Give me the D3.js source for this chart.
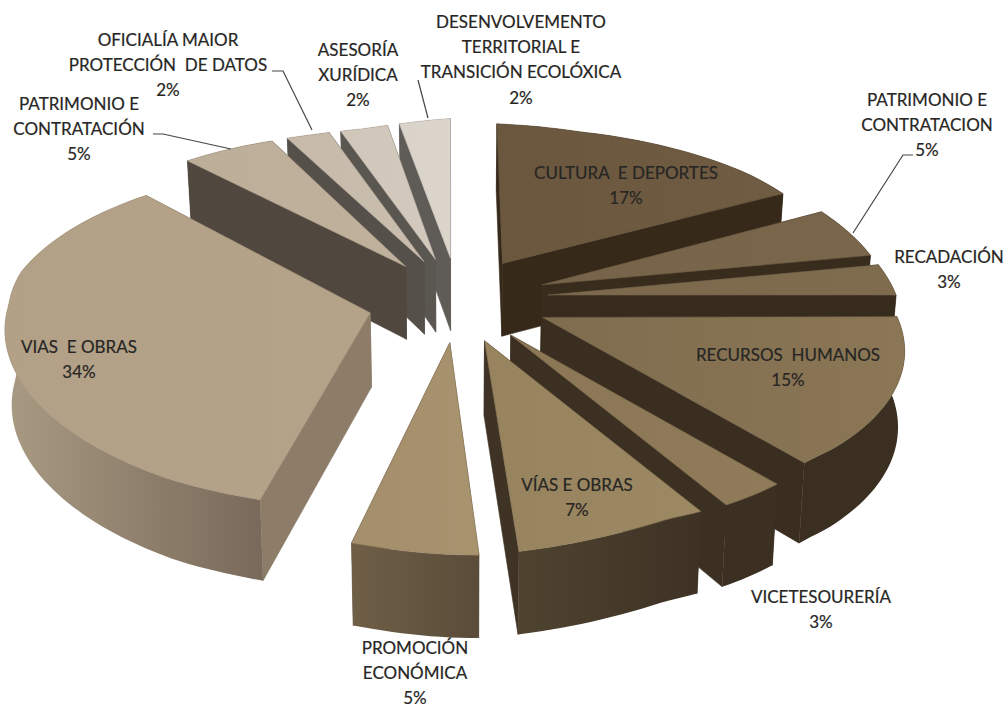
<!DOCTYPE html>
<html>
<head>
<meta charset="utf-8">
<script src="https://cdn.jsdelivr.net/npm/d3@7"></script>
<style>
  html, body { margin: 0; padding: 0; background: #fff; }
  svg { display: block; }
  text { font-family: Lato, "Open Sans", sans-serif; font-size: 17px; fill: #272624; stroke: #272624; stroke-width: 0.2px; white-space: pre; }
</style>
</head>
<body>
<script>
// Budget shares per department, clockwise from twelve o'clock
const departments = [
  "CULTURA E DEPORTES", "PATRIMONIO E CONTRATACION", "RECADACIÓN", "RECURSOS HUMANOS",
  "VICETESOURERÍA", "VÍAS E OBRAS", "PROMOCIÓN ECONÓMICA", "VIAS E OBRAS",
  "PATRIMONIO E CONTRATACIÓN", "OFICIALÍA MAIOR PROTECCIÓN DE DATOS", "ASESORÍA XURÍDICA",
  "DESENVOLVEMENTO TERRITORIAL E TRANSICIÓN ECOLÓXICA"
];
const shares = [17, 5, 3, 15, 3, 7, 5, 34, 5, 2, 2, 2];

// Label wording, line by line
const labelLines = [
  ["CULTURA  E DEPORTES", "17%"],
  ["PATRIMONIO E", "CONTRATACION", "5%"],
  ["RECADACIÓN", "3%"],
  ["RECURSOS  HUMANOS", "15%"],
  ["VICETESOURERÍA", "3%"],
  ["VÍAS E OBRAS", "7%"],
  ["PROMOCIÓN", "ECONÓMICA", "5%"],
  ["VIAS  E OBRAS", "34%"],
  ["PATRIMONIO E", "CONTRATACIÓN", "5%"],
  ["OFICIALÍA MAIOR", "PROTECCIÓN  DE DATOS", "2%"],
  ["ASESORÍA", "XURÍDICA", "2%"],
  ["DESENVOLVEMENTO", "TERRITORIAL E", "TRANSICIÓN ECOLÓXICA", "2%"]
];

// Where each label block sits: centre x, first baseline
const labelAnchors = [
  [626, 179], [927, 106], [949, 263], [788, 361], [821, 603], [577, 491],
  [415, 654], [79, 353], [79, 110], [168, 46], [358, 56], [521, 28]
];

// Callout lines for the labels that sit away from their slices
const leaders = [
  [[913, 155], [903, 155], [853, 233]],
  [[153, 134], [163, 134], [231, 149]],
  [[272, 71], [283, 71], [312, 130]],
  [[418, 80], [428, 118]]
];

// Face colours per slice: top face (left, right), radial wall, rim (left, right)
const topColors = [
  ["#6a573e", "#6f5c42"], ["#766349", "#79664b"], ["#7c694d", "#7f6c4f"], ["#7f6c4f", "#8b7755"],
  ["#8b7755", "#8f7b59"], ["#97835e", "#9c8862"], ["#a48e6b", "#a8936f"], ["#b2a087", "#b5a389"],
  ["#bdae99", "#c0b19c"], ["#c6baaa", "#c9bdad"], ["#d0c6b9", "#d3c9bc"], ["#dad3ca", "#dcd5cc"]
];
const wallColors = [
  "#36291a", "#382c1d", "#372b1d", "#392e1f", "#3c3022", "#3e3324", "#5c4e3b", "#8c7c68",
  "#50473e", "#56504a", "#5a5650", "#5f5c57"
];
const rimColors = [
  ["#36291a", "#36291a"], ["#382c1d", "#382c1d"], ["#372b1d", "#372b1d"], ["#3a2f20", "#3a2f20"],
  ["#3c3022", "#3c3022"], ["#4f4330", "#3d3224"], ["#6f5f47", "#5a4c39"], ["#a99a83", "#78695a"],
  ["#50473e", "#50473e"], ["#56504a", "#56504a"], ["#5a5650", "#5a5650"], ["#5f5c57", "#5f5c57"]
];

const width = 1005, height = 707;
const cx = 458, cy = 299, radiusX = 361, radiusY = 167;
const perspective = 0.15, explode = 0.25, thickness = 74, floorShrink = 0.985;
const clamp = (t, lo, hi) => Math.max(lo, Math.min(hi, t));

// Sideways lean of the near half of the disc, as a function of u
const nearLean = d3.scaleLinear().domain([-0.3, 0, 0.5, 0.85]).range([32, 24, 24, 4]).clamp(true);

// Projects a point of the unit pie plane (u right, v toward the viewer) onto the page.
// The skew terms reproduce the off-axis camera of the 3-D view.
function project(u, v, floor) {
  const w = 1 - perspective * v;
  let skewX = v > 0
    ? v * nearLean(u)
    : 29 * v * clamp(-u / 0.4, 0, 1) - 6 * clamp(-v / 0.2, 0, 1) * clamp(-u / 0.05, 0, 1);
  skewX -= 32 * Math.max(0, u - 0.9);
  let skewY = v > 0 ? -14 * v * clamp(u / 0.4, 0, 1) : 5 * v * (1 - clamp(Math.abs(u) / 0.4, 0, 1));
  skewY += 6 * clamp(-u / 0.24, 0, 1) * (1 - clamp((v - 0.9) / 0.3, 0, 1));
  const x = cx + (radiusX * u + skewX) / w;
  const y = cy + (radiusY * v + skewY) / w;
  if (!floor) return [x, y];
  return [cx + (x - cx) * floorShrink, y + thickness / Math.pow(w, 0.55)];
}

const svg = d3.select("body").append("svg").attr("width", width).attr("height", height);
const defs = svg.append("defs");
const polygon = d3.line();

function gradient(id, pair) {
  const g = defs.append("linearGradient").attr("id", id);
  g.append("stop").attr("offset", 0).attr("stop-color", pair[0]);
  g.append("stop").attr("offset", 1).attr("stop-color", pair[1]);
  return `url(#${id})`;
}

const arcs = d3.pie().sort(null).value(d => d).startAngle(0).endAngle(2 * Math.PI)(shares);

const slices = arcs.map((a, i) => {
  const mid = (a.startAngle + a.endAngle) / 2;
  const ou = explode * Math.sin(mid), ov = -explode * Math.cos(mid);
  const at = (angle, r) => [ou + r * Math.sin(angle), ov - r * Math.cos(angle)];
  const steps = Math.max(6, Math.ceil((a.endAngle - a.startAngle) * 40));
  const angles = d3.range(steps + 1).map(k => a.startAngle + (a.endAngle - a.startAngle) * k / steps);
  return { i, mid, apex: at(0, 0), rim: angles.map(t => at(t, 1)) };
});

// Far slices first, so the nearer ones cover them
const order = slices.slice().sort((p, q) => (-Math.cos(p.mid)) - (-Math.cos(q.mid)));

const chart = svg.append("g");
order.forEach(s => {
  const g = chart.append("g");
  const top = pt => project(pt[0], pt[1], false);
  const low = pt => project(pt[0], pt[1], true);
  const first = s.rim[0], last = s.rim[s.rim.length - 1];
  const wall = wallColors[s.i];

  [first, last].forEach(edge => {
    g.append("path")
      .attr("d", polygon([top(s.apex), top(edge), low(edge), low(s.apex)]) + "Z")
      .attr("fill", wall).attr("stroke", wall).attr("stroke-width", 0.6);
  });

  const rimFill = gradient(`rim${s.i}`, rimColors[s.i]);
  g.append("path")
    .attr("d", polygon(s.rim.map(top).concat(s.rim.slice().reverse().map(low))) + "Z")
    .attr("fill", rimFill);

  g.append("path")
    .attr("d", polygon([top(s.apex)].concat(s.rim.map(top))) + "Z")
    .attr("fill", gradient(`top${s.i}`, topColors[s.i]))
    .attr("stroke", d3.color(topColors[s.i][0]).darker(0.25)).attr("stroke-width", 0.6);
});

// Callouts
svg.append("g").selectAll("path").data(leaders).join("path")
  .attr("d", d => polygon(d))
  .attr("fill", "none").attr("stroke", "#454545").attr("stroke-width", 1.2);

// Labels
const lineStep = 25.2;
const labels = svg.append("g").selectAll("text").data(labelLines).join("text")
  .attr("text-anchor", "middle")
  .attr("y", (d, i) => labelAnchors[i][1])
  .attr("aria-label", (d, i) => departments[i]);
labels.selectAll("tspan").data((d, i) => d.map((line, k) => ({ line, k, i }))).join("tspan")
  .attr("x", d => labelAnchors[d.i][0])
  .attr("y", d => labelAnchors[d.i][1] + d.k * lineStep)
  .text(d => d.line);
</script>
</body>
</html>
